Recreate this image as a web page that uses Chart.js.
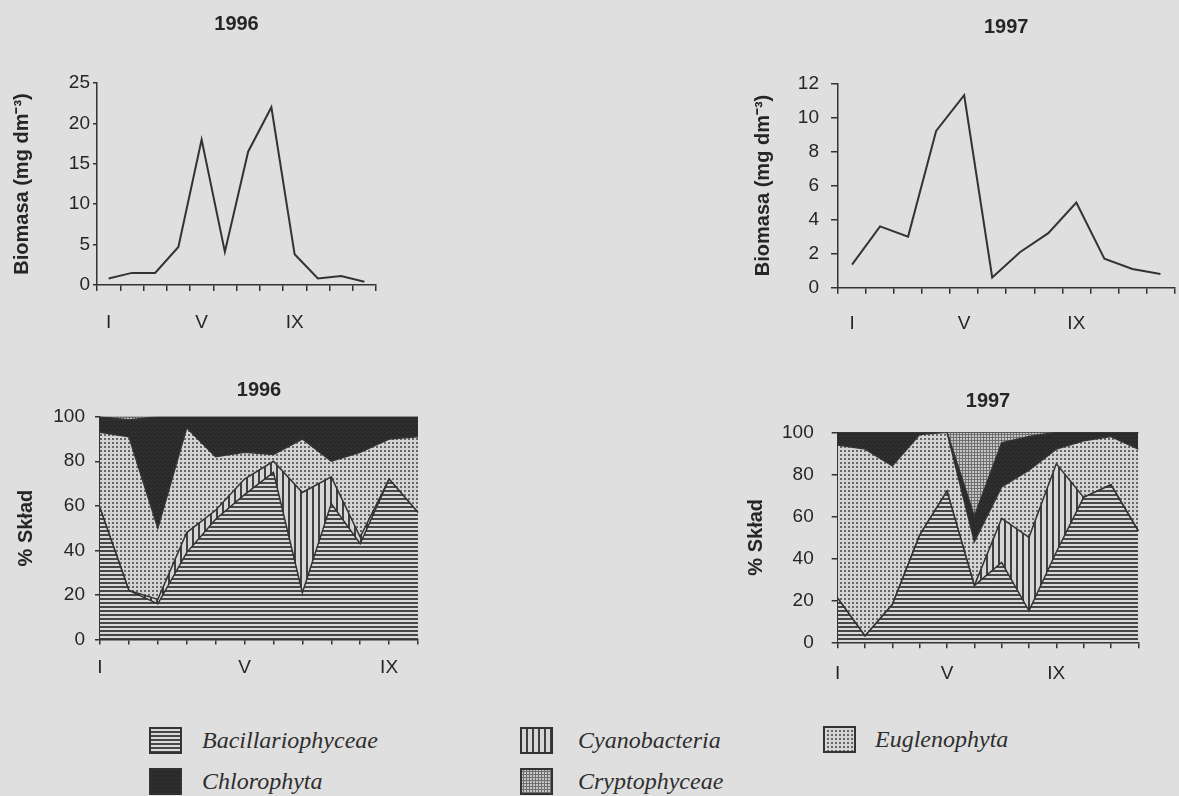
<!DOCTYPE html>
<html>
<head>
<meta charset="utf-8">
<script src="https://cdn.jsdelivr.net/npm/chart.js@4.4.1/dist/chart.umd.min.js"></script>
<style>
  body { margin: 0; width: 1179px; height: 796px; overflow: hidden; position: relative; background: #dfdfdf; }
  .panel { position: absolute; }
  .sw { position: absolute; }
  .lab { position: absolute; height: 27px; line-height: 27px; white-space: nowrap;
         font: italic 24px "Liberation Serif", "Times New Roman", serif; color: #2e2e2e; }
</style>
</head>
<body>
<canvas id="bio96" class="panel" width="400" height="340" style="left:0;top:0"></canvas>
<canvas id="bio97" class="panel" width="439" height="340" style="left:740px;top:0"></canvas>
<canvas id="sk96" class="panel" width="440" height="340" style="left:0;top:350px"></canvas>
<canvas id="sk97" class="panel" width="439" height="340" style="left:740px;top:350px"></canvas>
<div id="legend"></div>
<script>
// tick labels (only some months are labelled)
const ticksTop = ['I', '', '', '', 'V', '', '', '', 'IX', '', '', ''];
const ticks96 = ['I', '', '', '', '', 'V', '', '', '', '', 'IX', ''];
const ticks97 = ['I', '', '', '', 'V', '', '', '', 'IX', '', '', ''];

// biomass, mg dm-3
const biomass96 = [0.8, 1.5, 1.5, 4.7, 18, 4.1, 16.5, 22, 3.8, 0.8, 1.1, 0.4];
const biomass97 = [1.35, 3.6, 3.0, 9.2, 11.3, 0.6, 2.1, 3.2, 5.0, 1.7, 1.1, 0.8];

// % composition
const groups = ['Bacillariophyceae', 'Cyanobacteria', 'Euglenophyta', 'Chlorophyta', 'Cryptophyceae'];
const bacil96  = [59, 22, 16, 39, 54, 65, 75, 21, 61, 43, 72, 57];
const cyano96  = [0, 0, 2, 9, 4, 7, 5, 45, 12, 3, 0, 0];
const eugl96   = [34, 69, 32, 47, 24, 12, 3, 24, 7, 38, 18, 34];
const chloro96 = [7, 7.5, 50, 5, 18, 16, 17, 10, 20, 16, 10, 9];
const crypto96 = [0, 1.5, 0, 0, 0, 0, 0, 0, 0, 0, 0, 0];

const bacil97  = [21, 3, 18, 51, 72, 27, 38, 15, 43, 69, 75, 53];
const cyano97  = [0, 0, 0, 0, 0, 0, 21, 35, 42, 0, 0, 0];
const eugl97   = [73, 89, 66, 48, 28, 21, 15, 32, 7, 27, 23, 39];
const chloro97 = [6, 8, 16, 1, 0, 12, 21, 16, 8, 4, 2, 8];
const crypto97 = [0, 0, 0, 0, 0, 40, 5, 2, 0, 0, 0, 0];

const ink = '#262626';
Chart.defaults.font.family = '"Liberation Sans", Arial, sans-serif';
Chart.defaults.color = ink;

function makePattern(kind) {
  const c = document.createElement('canvas');
  const x = c.getContext('2d');
  if (kind === 'hlines') {
    c.width = 4; c.height = 4;
    x.fillStyle = '#d9d9d9'; x.fillRect(0, 0, 4, 4);
    x.fillStyle = '#474747'; x.fillRect(0, 0, 4, 2);
  } else if (kind === 'vlines') {
    c.width = 6; c.height = 6;
    x.fillStyle = '#d6d6d6'; x.fillRect(0, 0, 6, 6);
    x.fillStyle = '#404040'; x.fillRect(0, 0, 2, 6);
  } else if (kind === 'dots') {
    c.width = 4; c.height = 4;
    x.fillStyle = '#d4d4d4'; x.fillRect(0, 0, 4, 4);
    x.fillStyle = '#666'; x.fillRect(0, 0, 2, 2);
  } else if (kind === 'grid') {
    c.width = 3; c.height = 3;
    x.fillStyle = '#c6c6c6'; x.fillRect(0, 0, 3, 3);
    x.fillStyle = '#707070'; x.fillRect(0, 0, 3, 1); x.fillRect(0, 0, 1, 3);
  } else {
    c.width = 4; c.height = 4;
    x.fillStyle = '#2a2a2a'; x.fillRect(0, 0, 4, 4);
    x.fillStyle = '#3a3a3a'; x.fillRect(1, 1, 1, 1); x.fillRect(3, 2, 1, 1);
  }
  return x.createPattern(c, 'repeat');
}
const patterns = ['hlines', 'vlines', 'dots', 'dark', 'grid'].map(makePattern);

// keep the panel titles centred over the plot area, not the canvas
const centreTitle = {
  id: 'centreTitle',
  afterLayout(chart) {
    const t = chart.titleBlock;
    if (t) { t.left = chart.chartArea.left; t.right = chart.chartArea.right; }
  }
};

function panel(id, o) {
  const xScale = {
    offset: o.offset,
    grid: { drawOnChartArea: false, offset: o.offset, tickLength: o.xTick, color: '#333', lineWidth: 1.5 },
    border: { color: '#333', width: 1.5 },
    ticks: { autoSkip: false, maxRotation: 0, padding: o.xPad, font: { size: 19 } },
    afterFit: s => { s.height = o.xH; }
  };
  const yScale = {
    stacked: !!o.stacked,
    min: 0, max: o.max,
    grid: { drawOnChartArea: false, tickLength: o.yTick, color: '#333', lineWidth: 1.5 },
    border: { color: '#333', width: 1.5 },
    ticks: { stepSize: o.step, padding: o.yPad, font: { size: 19 } },
    title: { display: true, text: o.yTitle, font: { size: 20, weight: 'bold' }, padding: { top: o.yTitlePad, bottom: 0 } },
    afterFit: s => { s.width = o.yW; }
  };
  return new Chart(document.getElementById(id), {
    type: 'line',
    data: { labels: o.labels, datasets: o.datasets },
    options: {
      responsive: false,
      animation: false,
      layout: { padding: { left: 0, right: o.padR, top: 0, bottom: 0 } },
      plugins: {
        legend: { display: false },
        tooltip: { enabled: false },
        title: { display: true, text: o.title, font: { size: 20, weight: 'bold' },
                 padding: { top: o.tTop, bottom: o.tBottom } }
      },
      scales: { x: xScale, y: yScale }
    },
    plugins: [centreTitle]
  });
}

function lineSet(values) {
  return [{ data: values, borderColor: '#333', borderWidth: 2, pointRadius: 0, tension: 0, fill: false }];
}
function stackSets(series) {
  return series.map((vals, i) => ({
    label: groups[i], data: vals,
    fill: i === 0 ? 'origin' : '-1',
    backgroundColor: patterns[i],
    borderColor: '#333', borderWidth: 1.5, pointRadius: 0, tension: 0
  }));
}

panel('bio96', {
  labels: ticksTop, datasets: lineSet(biomass96), title: '1996', offset: true,
  max: 25, step: 5, yTitle: 'Biomasa (mg dm⁻³)', yTitlePad: 10, yW: 97, yTick: 4, yPad: 3,
  xTick: 6, xPad: 20, xH: 55, padR: 24, tTop: 12, tBottom: 47
});
panel('bio97', {
  labels: ticksTop, datasets: lineSet(biomass97), title: '1997', offset: true,
  max: 12, step: 2, yTitle: 'Biomasa (mg dm⁻³)', yTitlePad: 11, yW: 98, yTick: 7, yPad: 12,
  xTick: 6, xPad: 18.5, xH: 52.3, padR: 1, tTop: 15, tBottom: 44.3
});
panel('sk96', {
  labels: ticks96, datasets: stackSets([bacil96, cyano96, eugl96, chloro96, crypto96]),
  title: '1996', offset: false, stacked: true,
  max: 100, step: 20, yTitle: '% Skład', yTitlePad: 14, yW: 100, yTick: 5, yPad: 10,
  xTick: 5, xPad: 11.7, xH: 50.5, padR: 22, tTop: 28.5, tBottom: 14.2
});
panel('sk97', {
  labels: ticks97, datasets: stackSets([bacil97, cyano97, eugl97, chloro97, crypto97]),
  title: '1997', offset: false, stacked: true,
  max: 100, step: 20, yTitle: '% Skład', yTitlePad: 4, yW: 97.7, yTick: 6, yPad: 18,
  xTick: 6, xPad: 13.9, xH: 47.7, padR: 40.7, tTop: 39.7, tBottom: 18.6
});

// shared legend, two rows
const legendSpots = {
  Bacillariophyceae: [149, 727, 202],
  Cyanobacteria: [520, 727, 578],
  Euglenophyta: [823, 726, 875],
  Chlorophyta: [149, 768, 202],
  Cryptophyceae: [520, 768, 578]
};
const legend = document.getElementById('legend');
groups.forEach((g, i) => {
  const [sx, sy, tx] = legendSpots[g];
  const sw = document.createElement('canvas');
  sw.className = 'sw'; sw.width = 33; sw.height = 27;
  sw.style.left = sx + 'px'; sw.style.top = sy + 'px';
  const c = sw.getContext('2d');
  c.fillStyle = patterns[i]; c.fillRect(0, 0, 33, 27);
  c.strokeStyle = '#333'; c.lineWidth = 2; c.strokeRect(1, 1, 31, 25);
  legend.appendChild(sw);
  const lab = document.createElement('div');
  lab.className = 'lab'; lab.textContent = g;
  lab.style.left = tx + 'px'; lab.style.top = sy + 'px';
  legend.appendChild(lab);
});
</script>
</body>
</html>
